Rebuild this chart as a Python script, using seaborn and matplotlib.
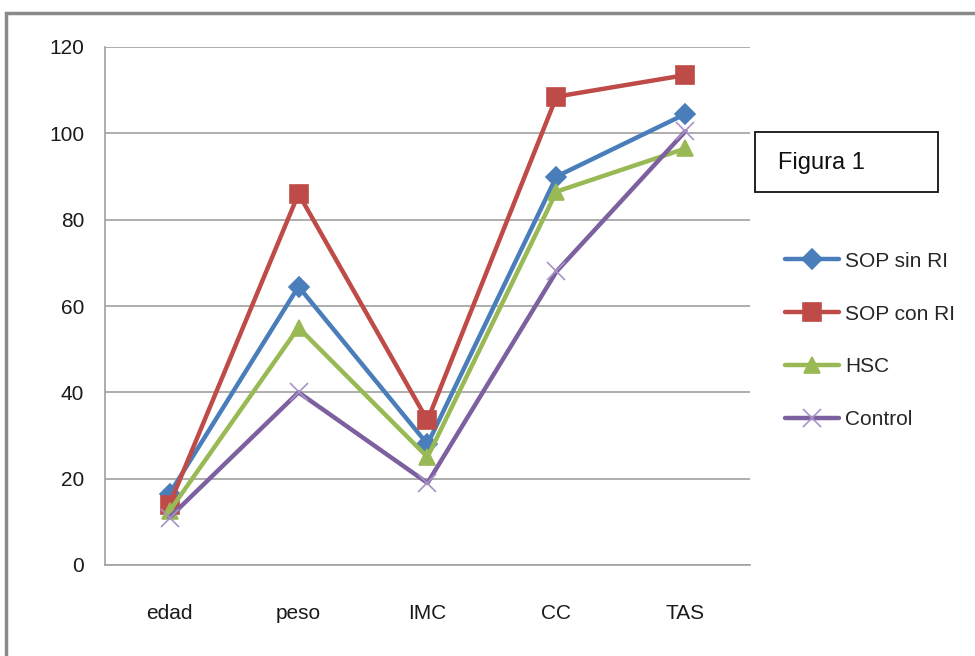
import matplotlib
matplotlib.use('Agg')
from matplotlib import pyplot as plt
from matplotlib.patches import Rectangle
from matplotlib.ticker import FixedLocator
import seaborn as sns
import pandas as pd

# Data
categories = ['edad', 'peso', 'IMC', 'CC', 'TAS']
sop_sin_ri = [16.5, 64.5, 28.0, 90.0, 104.5]
sop_con_ri = [14.0, 86.0, 33.5, 108.5, 113.5]
hsc = [12.5, 55.0, 25.0, 86.5, 96.5]
control = [11.0, 40.0, 19.0, 68.0, 100.5]

series = {'SOP sin RI': sop_sin_ri, 'SOP con RI': sop_con_ri,
          'HSC': hsc, 'Control': control}
df = pd.DataFrame([(name, c, v) for name, vals in series.items()
                   for c, v in zip(categories, vals)],
                  columns=['grupo', 'variable', 'valor'])

sns.set_style('white')
plt.rcParams['font.family'] = ['Liberation Sans Narrow', 'Liberation Sans', 'DejaVu Sans']

palette = {'SOP sin RI': '#4a7ebb', 'SOP con RI': '#be4b48',
           'HSC': '#98b954', 'Control': '#7d60a0'}
markers = {'SOP sin RI': 'D', 'SOP con RI': 's', 'HSC': '^', 'Control': 'x'}
msize = {'SOP sin RI': 10, 'SOP con RI': 13, 'HSC': 12, 'Control': 13}
medge = {'SOP sin RI': '#4a7ebb', 'SOP con RI': '#be4b48',
         'HSC': '#98b954', 'Control': '#a893c7'}

fig = plt.figure(figsize=(9.75, 6.56), dpi=100)
ax = fig.add_axes([105/975, 1-565/656, (750-105)/975, (565-47)/656])

for name in series:
    sns.lineplot(data=df[df['grupo'] == name], x='variable', y='valor',
                 color=palette[name], marker=markers[name], markersize=msize[name],
                 markeredgecolor=medge[name], markeredgewidth=1.2,
                 linewidth=3.2, sort=False, ax=ax, label=name, legend=False)

ax.set_xlim(-0.5, 4.5)
ax.set_ylim(0, 120)
ax.set_yticks(range(0, 121, 20))
ax.yaxis.grid(True, color='#a0a0a0', linewidth=1.2)
ax.set_axisbelow(True)
ax.set_xlabel('')
ax.set_ylabel('')

# boundary ticks on x, labels centred on categories
ax.xaxis.set_major_locator(FixedLocator([i - 0.5 for i in range(6)]))
ax.xaxis.set_minor_locator(FixedLocator(range(5)))
ax.set_xticklabels([])
ax.set_xticklabels(categories, minor=True)
ax.tick_params(axis='x', which='major', length=6, color='#a0a0a0', width=1.2, direction='out')
ax.tick_params(axis='x', which='minor', length=0, pad=28, labelsize=15, labelcolor='#1a1a1a')
ax.tick_params(axis='y', length=5, color='#a0a0a0', width=1.2, direction='out',
               pad=10, labelsize=15, labelcolor='#1a1a1a')

for side in ['top', 'right']:
    ax.spines[side].set_visible(False)
for side in ['left', 'bottom']:
    ax.spines[side].set_color('#a0a0a0')
    ax.spines[side].set_linewidth(1.2)

handles = [plt.Line2D([], [], color=palette[k], marker=markers[k], linewidth=3.2,
                      markersize=msize[k], markeredgecolor=medge[k],
                      markeredgewidth=1.2)
           for k in series]
ax.legend(handles, list(series.keys()), loc='upper left',
          bbox_to_anchor=(766/975, 1-233/656), bbox_transform=fig.transFigure,
          frameon=False, fontsize=15, labelspacing=1.62, handlelength=2.6,
          handletextpad=0.3)

# "Figura 1" box
fig.patches.append(Rectangle((755/975, 1-192/656), 183/975, 60/656,
                             transform=fig.transFigure, fill=False,
                             edgecolor='#111111', linewidth=1.3))
fig.text(778/975, 1-163/656, 'Figura 1', fontsize=17, va='center', ha='left',
         color='#111111')

# outer chart frame (cut at right and bottom)
fig.patches.append(Rectangle((6/975, -0.05), 1.2, 1.05 - 13/656,
                             transform=fig.transFigure, fill=False,
                             edgecolor='#8a8a8a', linewidth=2.5))

fig.savefig('out.png', dpi=100)
